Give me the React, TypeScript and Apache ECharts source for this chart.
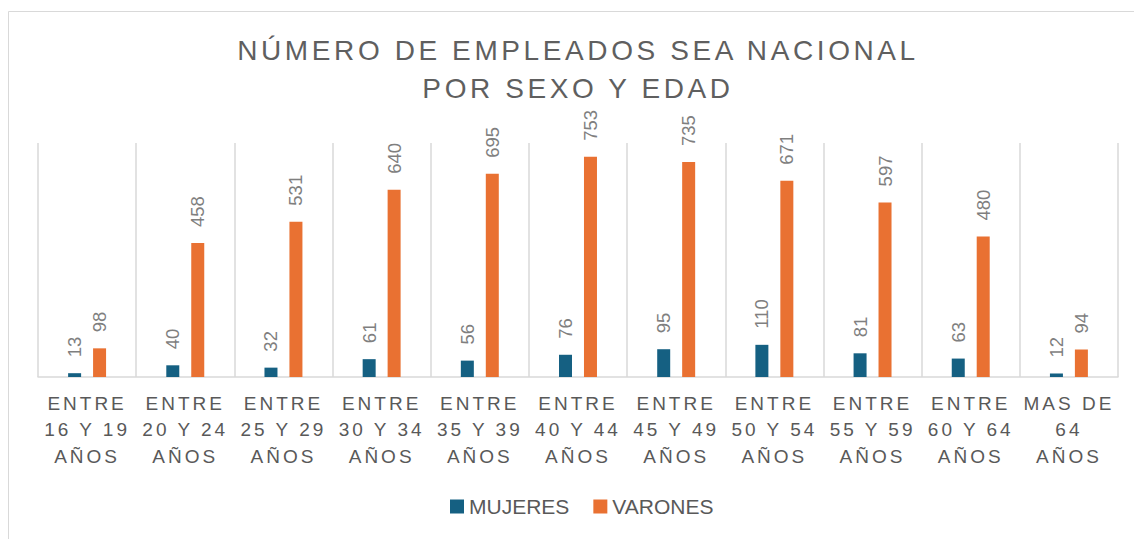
import React, { useEffect, useRef } from "react";
import * as echarts from "echarts";

const categories = [
  "ENTRE\n16 Y 19\nAÑOS",
  "ENTRE\n20 Y 24\nAÑOS",
  "ENTRE\n25 Y 29\nAÑOS",
  "ENTRE\n30 Y 34\nAÑOS",
  "ENTRE\n35 Y 39\nAÑOS",
  "ENTRE\n40 Y 44\nAÑOS",
  "ENTRE\n45 Y 49\nAÑOS",
  "ENTRE\n50 Y 54\nAÑOS",
  "ENTRE\n55 Y 59\nAÑOS",
  "ENTRE\n60 Y 64\nAÑOS",
  "MAS DE\n64\nAÑOS",
];
const mujeres = [13, 40, 32, 61, 56, 76, 95, 110, 81, 63, 12];
const varones = [98, 458, 531, 640, 695, 753, 735, 671, 597, 480, 94];
const seriesNames = ["MUJERES", "VARONES"];
const titleText = "NÚMERO DE EMPLEADOS SEA NACIONAL\nPOR SEXO Y EDAD";

const FONT = "'Liberation Sans', Arial, sans-serif";

export default function App() {
  const ref = useRef<HTMLDivElement>(null);
  useEffect(() => {
    if (!ref.current) return;
    const chart = echarts.init(ref.current, null, { renderer: "svg" });
    const label = {
      show: true,
      position: "top",
      rotate: 90,
      align: "left",
      verticalAlign: "middle",
      distance: 16,
      color: "#7f7f7f",
      fontSize: 18.5,
      fontFamily: FONT,
    };
    chart.setOption({
      animation: false,
      backgroundColor: "#ffffff",
      title: {
        text: titleText,
        left: 578,
        top: 32,
        padding: 0,
        textAlign: "center",
        textStyle: {
          color: "#5f5f5f",
          fontSize: 28,
          fontWeight: "normal",
          fontFamily: FONT,
          lineHeight: 37.5,
        },
      },
      graphic: [
        {
          type: "rect",
          shape: { x: 8.5, y: 11.5, width: 1200, height: 600 },
          style: { fill: "none", stroke: "#d9d9d9", lineWidth: 1 },
          silent: true,
        },
      ],
      legend: {
        data: seriesNames,
        left: 450,
        top: 496,
        padding: 0,
        itemWidth: 14,
        itemHeight: 14,
        itemGap: 24,
        icon: "rect",
        textStyle: { color: "#595959", fontSize: 21, fontFamily: FONT },
      },
      grid: { left: 38, right: 16, top: 143, bottom: 162 },
      xAxis: {
        type: "category",
        data: categories,
        axisLine: { lineStyle: { color: "#d9d9d9", width: 1.5 } },
        axisTick: { show: false },
        splitLine: { show: true, lineStyle: { color: "#d9d9d9", width: 1.5 } },
        axisLabel: {
          interval: 0,
          color: "#595959",
          fontSize: 19,
          fontFamily: FONT,
          lineHeight: 26.5,
          margin: 13,
        },
      },
      yAxis: {
        type: "value",
        min: 0,
        max: 800,
        show: false,
        splitLine: { show: false },
      },
      series: [
        {
          name: seriesNames[0],
          type: "bar",
          data: mujeres,
          barWidth: 13,
          barGap: "92%",
          itemStyle: { color: "#156082" },
          label,
        },
        {
          name: seriesNames[1],
          type: "bar",
          data: varones,
          barWidth: 13,
          barGap: "92%",
          itemStyle: { color: "#E97132" },
          label,
        },
      ],
    });
    const applySpacing = () => {
      const texts = ref.current?.querySelectorAll("text") || [];
      texts.forEach((t: any) => {
        const fs = parseFloat(getComputedStyle(t).fontSize);
        if (fs === 28) t.style.letterSpacing = "3.6px";
        else if (fs === 19) t.style.letterSpacing = "3px";
      });
    };
    applySpacing();
    chart.on("finished", applySpacing);
    return () => chart.dispose();
  }, []);
  return (
    <div
      ref={ref}
      style={{ position: "absolute", left: 0, top: 0, width: 1134, height: 539 }}
    />
  );
}
